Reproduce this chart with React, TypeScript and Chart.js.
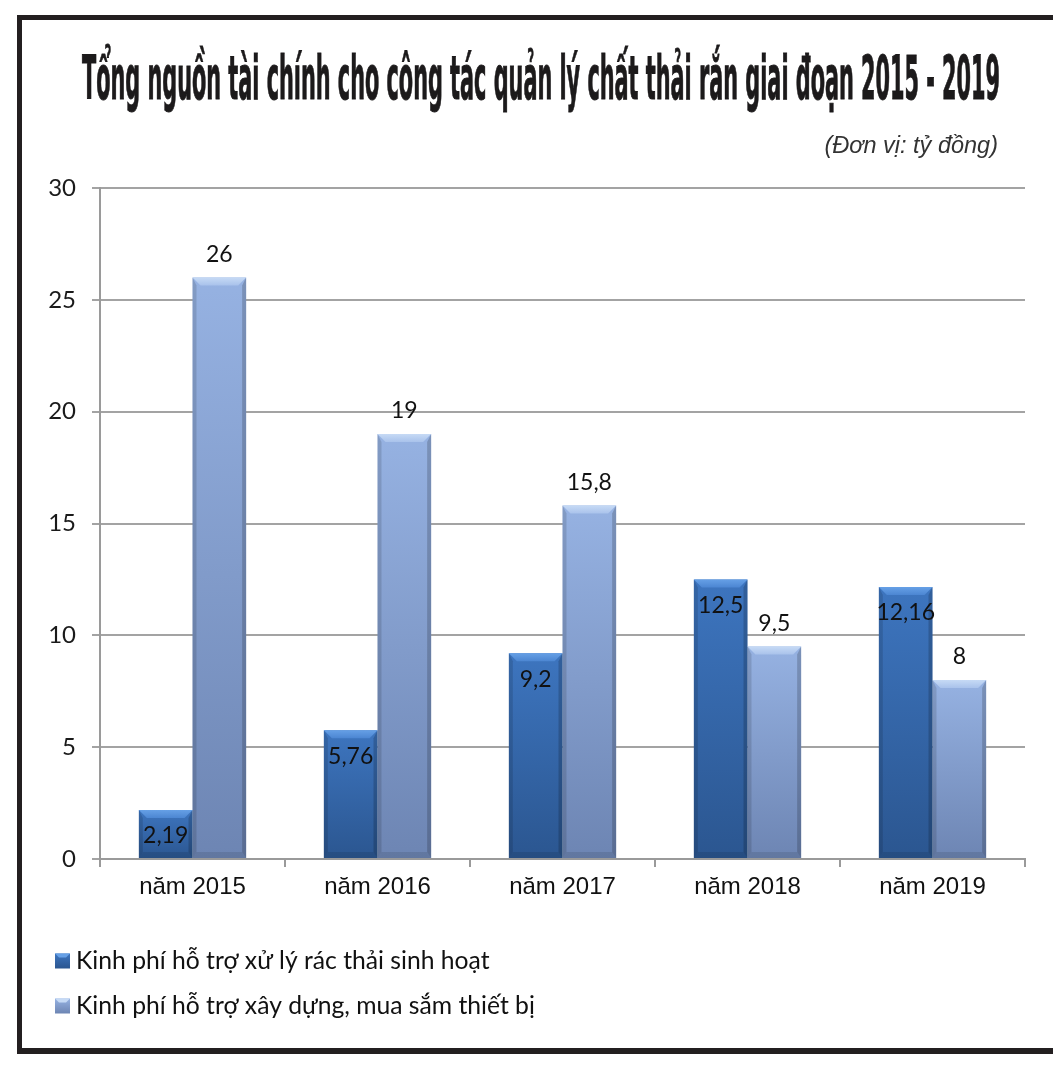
import { useEffect, useRef } from 'react';
import { Chart, registerables } from 'chart.js';

Chart.register(...registerables);

const categories = ['năm 2015', 'năm 2016', 'năm 2017', 'năm 2018', 'năm 2019'];
const seriesNames = [
  'Kinh phí hỗ trợ xử lý rác thải sinh hoạt',
  'Kinh phí hỗ trợ xây dựng, mua sắm thiết bị',
];
const wasteValues = [2.19, 5.76, 9.2, 12.5, 12.16];
const equipmentValues = [26, 19, 15.8, 9.5, 8];
const yTicks = [0, 5, 10, 15, 20, 25, 30];
const titleText = 'Tổng nguồn tài chính cho công tác quản lý chất thải rắn giai đoạn 2015 - 2019';
const unitText = '(Đơn vị: tỷ đồng)';

const W = 1053;
const H = 1066;

const palettes = [
  { top: '#3d75bf', bottom: '#2b5690', bevel: '#66a0e6', bevel2: '#4c86d2' },
  { top: '#96b2e2', bottom: '#6d85b3', bevel: '#c6daf5', bevel2: '#a9c2eb' },
];

const fmt = (v: number) => String(v).replace('.', ',');

const decorPlugin = {
  id: 'decor',
  beforeDraw(chart: any) {
    const ctx = chart.ctx as CanvasRenderingContext2D;
    ctx.save();
    ctx.fillStyle = '#ffffff';
    ctx.fillRect(0, 0, W, H);
    // frame (left, top, bottom; right edge runs off the picture)
    ctx.fillStyle = '#231f20';
    ctx.fillRect(17, 15, W - 17, 5);
    ctx.fillRect(17, 15, 5, 1039);
    ctx.fillRect(17, 1048, W - 17, 6);
    // title
    ctx.fillStyle = '#1c1a1b';
    ctx.strokeStyle = '#1c1a1b';
    ctx.lineWidth = 1;
    ctx.textAlign = 'left';
    ctx.textBaseline = 'alphabetic';
    ctx.font = 'bold 60px "Liberation Sans Narrow", "DejaVu Sans Condensed", "Liberation Sans", sans-serif';
    ctx.fillText(titleText, 82, 99, 918);
    ctx.strokeText(titleText, 82, 99, 918);
    // unit
    ctx.fillStyle = '#333333';
    ctx.font = 'italic 23.5px "Liberation Sans", Arial, sans-serif';
    ctx.textAlign = 'right';
    ctx.textBaseline = 'middle';
    ctx.fillText(unitText, 998, 146);
    ctx.restore();
  },
  afterDatasetsDraw(chart: any) {
    const ctx = chart.ctx as CanvasRenderingContext2D;
    ctx.save();
    chart.data.datasets.forEach((ds: any, di: number) => {
      const meta = chart.getDatasetMeta(di);
      const pal = palettes[di];
      meta.data.forEach((bar: any, i: number) => {
        const { x, y, base, width } = bar.getProps(['x', 'y', 'base', 'width'], true);
        const x0 = x - width / 2;
        const x1 = x + width / 2;
        const b = 8;
        ctx.fillStyle = 'rgba(0,0,0,0.13)';
        ctx.beginPath();
        ctx.moveTo(x0, y);
        ctx.lineTo(x0 + 4, y + b);
        ctx.lineTo(x0 + 4, base - 6);
        ctx.lineTo(x0, base);
        ctx.closePath();
        ctx.fill();
        ctx.fillStyle = 'rgba(0,0,0,0.18)';
        ctx.beginPath();
        ctx.moveTo(x1, y);
        ctx.lineTo(x1 - 4, y + b);
        ctx.lineTo(x1 - 4, base - 6);
        ctx.lineTo(x1, base);
        ctx.closePath();
        ctx.fill();
        ctx.fillStyle = 'rgba(0,0,0,0.10)';
        ctx.beginPath();
        ctx.moveTo(x0, base);
        ctx.lineTo(x0 + 4, base - 6);
        ctx.lineTo(x1 - 4, base - 6);
        ctx.lineTo(x1, base);
        ctx.closePath();
        ctx.fill();
        const g = ctx.createLinearGradient(0, y, 0, y + b);
        g.addColorStop(0, pal.bevel);
        g.addColorStop(1, pal.bevel2);
        ctx.fillStyle = g;
        ctx.beginPath();
        ctx.moveTo(x0, y);
        ctx.lineTo(x1, y);
        ctx.lineTo(x1 - b, y + b);
        ctx.lineTo(x0 + b, y + b);
        ctx.closePath();
        ctx.fill();
        ctx.fillStyle = '#111111';
        ctx.font = '23px Lato, "Open Sans", sans-serif';
        ctx.textAlign = 'center';
        ctx.textBaseline = 'middle';
        const v = ds.data[i];
        if (di === 0) ctx.fillText(fmt(v), x, y + 26);
        else ctx.fillText(fmt(v), x, y - 23);
      });
    });
    ctx.restore();
  },
  afterDraw(chart: any) {
    const ctx = chart.ctx as CanvasRenderingContext2D;
    ctx.save();
    const rows = [961, 1006];
    chart.data.datasets.forEach((ds: any, di: number) => {
      const pal = palettes[di];
      const cy = rows[di];
      const s = 15;
      const bx = 55;
      const by = cy - s / 2;
      const g = ctx.createLinearGradient(0, by, 0, by + s);
      g.addColorStop(0, pal.top);
      g.addColorStop(1, pal.bottom);
      ctx.fillStyle = g;
      ctx.fillRect(bx, by, s, s);
      ctx.fillStyle = pal.bevel;
      ctx.beginPath();
      ctx.moveTo(bx, by);
      ctx.lineTo(bx + s, by);
      ctx.lineTo(bx + s - 4, by + 4);
      ctx.lineTo(bx + 4, by + 4);
      ctx.closePath();
      ctx.fill();
      ctx.fillStyle = '#111111';
      ctx.font = '24.7px Lato, "Open Sans", sans-serif';
      ctx.textAlign = 'left';
      ctx.textBaseline = 'middle';
      ctx.fillText(ds.label, 76, cy);
    });
    ctx.restore();
  },
};

function barFill(di: number) {
  return (c: any) => {
    const chart = c.chart;
    const pal = palettes[di];
    const ys = chart.scales?.y;
    if (!ys || c.type !== 'data') return pal.top;
    const v = c.raw as number;
    const top = ys.getPixelForValue(v);
    const bottom = ys.getPixelForValue(0);
    if (!isFinite(top) || !isFinite(bottom) || top === bottom) return pal.top;
    const g = chart.ctx.createLinearGradient(0, top, 0, bottom);
    g.addColorStop(0, pal.top);
    g.addColorStop(1, pal.bottom);
    return g;
  };
}

export default function App() {
  const ref = useRef<HTMLCanvasElement>(null);

  useEffect(() => {
    const prevMargin = document.body.style.margin;
    const prevOverflow = document.body.style.overflow;
    document.body.style.margin = '0';
    document.body.style.overflow = 'hidden';
    if (!ref.current) return;
    const chart = new Chart(ref.current, {
      type: 'bar',
      data: {
        labels: categories,
        datasets: [
          {
            label: seriesNames[0],
            data: wasteValues,
            backgroundColor: barFill(0),
            borderWidth: 0,
            categoryPercentage: 0.58,
            barPercentage: 1,
          },
          {
            label: seriesNames[1],
            data: equipmentValues,
            backgroundColor: barFill(1),
            borderWidth: 0,
            categoryPercentage: 0.58,
            barPercentage: 1,
          },
        ],
      },
      options: {
        responsive: false,
        animation: false,
        devicePixelRatio: 1,
        layout: { padding: { left: 22, right: 28, top: 188, bottom: 0 } },
        plugins: {
          legend: { display: false },
          title: { display: false },
          tooltip: { enabled: false },
        },
        scales: {
          x: {
            offset: true,
            grid: {
              display: true,
              drawOnChartArea: false,
              drawTicks: true,
              tickLength: 8,
              color: '#9a9a9a',
              lineWidth: 2,
              offset: true,
            },
            border: { display: true, color: '#9a9a9a', width: 2 },
            ticks: {
              color: '#111111',
              padding: 6,
              font: { family: '"Liberation Sans", Arial, sans-serif', size: 24 },
            },
            afterFit: (s: any) => {
              s.height = 207;
            },
          },
          y: {
            min: yTicks[0],
            max: yTicks[yTicks.length - 1],
            ticks: {
              stepSize: yTicks[1] - yTicks[0],
              color: '#1a1a1a',
              padding: 16,
              font: { family: 'Lato, "Open Sans", sans-serif', size: 24 },
            },
            grid: { color: '#a3a3a3', lineWidth: 2, tickLength: 8 },
            border: { display: true, color: '#9a9a9a', width: 2 },
            afterFit: (s: any) => {
              s.width = 78;
            },
          },
        },
      },
      plugins: [decorPlugin],
    });
    return () => {
      chart.destroy();
      document.body.style.margin = prevMargin;
      document.body.style.overflow = prevOverflow;
    };
  }, []);

  return (
    <div style={{ position: 'absolute', left: 0, top: 0, width: W, height: H, background: '#fff', overflow: 'hidden' }}>
      <canvas ref={ref} width={W} height={H} style={{ display: 'block', width: W, height: H }} />
    </div>
  );
}
